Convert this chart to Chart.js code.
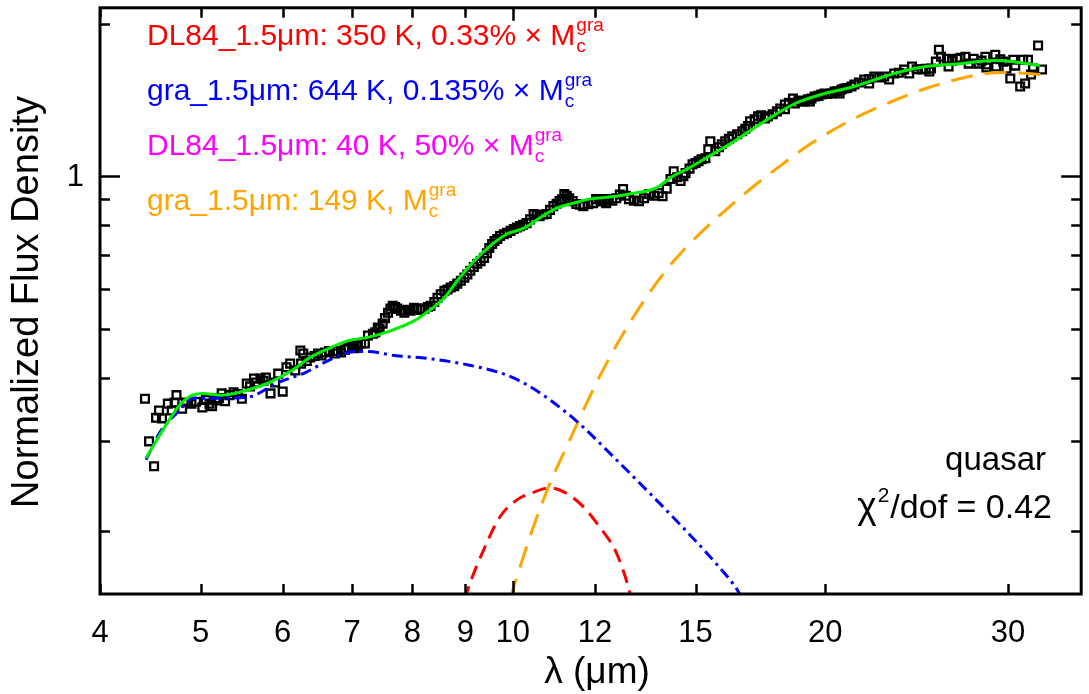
<!DOCTYPE html>
<html>
<head>
<meta charset="utf-8">
<script src="https://cdn.jsdelivr.net/npm/chart.js@4.4.1/dist/chart.umd.min.js"></script>
<style>
  body { margin: 0; background: #fff; }
  #wrap { width: 1089px; height: 694px; }
</style>
</head>
<body>
<div id="wrap"><canvas id="sed" width="1089" height="694"></canvas></div>
<script>
// observed spectrum (black squares)
const obsWave = [4.42, 4.46, 4.51, 4.53, 4.56, 4.59, 4.65, 4.69, 4.72, 4.74, 4.80, 4.84, 4.90, 4.95, 5.02, 5.10, 5.17, 5.24, 5.33, 5.38,
  5.48, 5.54, 5.63, 5.71, 5.78, 5.84, 5.90, 5.94, 6.00, 6.05, 6.10, 6.17, 6.24, 6.25, 6.28, 6.38, 6.49, 6.59, 6.74, 6.83,
  6.94, 7.09, 7.14, 7.20, 7.25, 7.33, 7.37, 7.41, 7.44, 7.49, 7.53, 7.58, 7.66, 7.74, 7.86, 7.97, 8.09, 8.22, 8.33, 8.46,
  8.59, 8.71, 8.84, 8.98, 9.10, 9.24, 9.38, 9.49, 9.60, 9.72, 9.87, 10.02, 10.16, 10.31, 10.47, 10.61, 10.78, 10.94, 11.09, 11.21,
  11.33, 11.51, 11.69, 11.95, 12.03, 12.11, 12.30, 12.37, 12.58, 12.77, 12.94, 13.23, 13.53, 13.82, 13.94, 14.19, 14.29, 14.51, 14.67, 14.90,
  15.10, 15.33, 15.43, 15.50, 15.67, 15.90, 16.02, 16.27, 16.64, 16.75, 16.93, 17.23, 17.50, 17.61, 17.97, 18.29, 18.29, 18.62, 18.70, 18.99,
  19.11, 19.33, 19.40, 19.54, 19.83, 19.97, 20.28, 20.42, 20.65, 20.74, 20.87, 21.20, 21.34, 21.81, 22.05, 22.30, 22.80, 23.05, 23.31, 23.83,
  24.10, 24.25, 24.79, 25.20, 25.29, 25.57, 25.74, 25.86, 26.20, 26.30, 26.80, 27.30, 27.50, 27.80, 28.11, 28.54, 28.60, 28.70, 29.17, 29.23,
  29.70, 29.90, 30.16, 30.36, 30.49, 30.83, 31.03, 31.17, 31.37, 31.58, 31.72, 32.08, 32.36,
  5.06, 5.13, 5.21, 5.28, 5.43, 5.58, 5.66, 5.75, 6.33, 6.44, 6.54, 6.65, 6.78, 6.89, 7.00, 7.04,
  7.62, 7.70, 7.80, 7.92, 8.03, 8.15, 8.28, 8.40, 8.52, 8.65, 8.78, 8.91, 9.04, 9.17, 9.31, 9.44, 9.55, 9.66, 9.80, 9.95,
  10.09, 10.23, 10.39, 10.54, 10.70, 10.86, 11.02, 11.15, 11.27, 11.42, 11.60, 11.82, 12.20, 12.47, 12.68, 12.85, 13.08, 13.38, 13.68, 14.07,
  14.40, 14.60, 14.80, 15.00, 15.20, 15.80, 16.15, 16.45, 16.85, 17.10, 17.35, 17.80, 18.10, 18.45, 18.85, 19.25, 19.70, 20.10, 20.55, 21.00,
  21.55, 22.05, 22.55, 23.55, 24.50, 25.00, 26.50, 27.00, 28.30, 29.50];
const obsFlux = [0.364, 0.300, 0.268, 0.334, 0.345, 0.333, 0.356, 0.345, 0.358, 0.370, 0.348, 0.358, 0.356, 0.359, 0.350, 0.356, 0.361, 0.373, 0.370, 0.375,
  0.364, 0.390, 0.399, 0.399, 0.401, 0.373, 0.392, 0.408, 0.376, 0.420, 0.427, 0.414, 0.453, 0.427, 0.447, 0.439, 0.447, 0.449, 0.447, 0.449,
  0.459, 0.463, 0.468, 0.468, 0.485, 0.489, 0.492, 0.503, 0.500, 0.512, 0.525, 0.538, 0.555, 0.548, 0.538, 0.543, 0.548, 0.548, 0.555, 0.576,
  0.594, 0.603, 0.614, 0.631, 0.651, 0.672, 0.690, 0.722, 0.745, 0.762, 0.773, 0.787, 0.797, 0.808, 0.842, 0.834, 0.842, 0.873, 0.893, 0.922,
  0.905, 0.881, 0.873, 0.885, 0.901, 0.901, 0.885, 0.901, 0.905, 0.943, 0.901, 0.893, 0.922, 0.926, 0.913, 0.987, 1.023, 0.978, 1.014, 1.056,
  1.070, 1.085, 1.130, 1.172, 1.120, 1.156, 1.172, 1.198, 1.226, 1.240, 1.283, 1.312, 1.300, 1.312, 1.342, 1.385, 1.355, 1.423, 1.391, 1.404,
  1.404, 1.404, 1.423, 1.436, 1.449, 1.456, 1.456, 1.469, 1.456, 1.482, 1.489, 1.503, 1.516, 1.551, 1.523, 1.572, 1.572, 1.551, 1.594, 1.623,
  1.594, 1.645, 1.623, 1.608, 1.630, 1.682, 1.776, 1.720, 1.705, 1.645, 1.705, 1.720, 1.667, 1.705, 1.667, 1.720, 1.638, 1.660, 1.736, 1.645,
  1.682, 1.630, 1.558, 1.697, 1.652, 1.503, 1.697, 1.523, 1.697, 1.587, 1.630, 1.810, 1.623,
  0.362, 0.352, 0.365, 0.360, 0.372, 0.385, 0.392, 0.395, 0.432, 0.442, 0.443, 0.452, 0.452, 0.455, 0.462, 0.458,
  0.548, 0.552, 0.543, 0.545, 0.550, 0.545, 0.552, 0.565, 0.585, 0.598, 0.607, 0.622, 0.640, 0.662, 0.680, 0.705, 0.735, 0.752, 0.768, 0.780,
  0.792, 0.802, 0.822, 0.838, 0.840, 0.858, 0.882, 0.900, 0.915, 0.893, 0.878, 0.880, 0.892, 0.895, 0.920, 0.915, 0.895, 0.905, 0.915, 0.945,
  0.995, 1.000, 1.035, 1.062, 1.080, 1.140, 1.185, 1.210, 1.255, 1.295, 1.318, 1.325, 1.360, 1.395, 1.410, 1.418, 1.440, 1.452, 1.470, 1.492,
  1.530, 1.555, 1.565, 1.600, 1.625, 1.628, 1.690, 1.712, 1.690, 1.700];

// total model (green)
const totWave = [4.43, 4.60, 4.77, 4.91, 5.02, 5.24, 5.53, 5.83, 6.17, 6.35, 6.64, 6.94, 7.25, 7.63, 8.04, 8.22, 8.59, 8.84, 9.18, 9.51,
  9.87, 10.25, 10.61, 11.02, 11.44, 11.85, 12.58, 12.94, 13.73, 14.26, 14.77, 15.34, 16.17, 16.89, 17.79, 18.70, 19.83, 21.34, 23.31, 25.0,
  26.95, 29.05, 30.36, 32.2];
const totFlux = [0.278, 0.316, 0.353, 0.370, 0.373, 0.370, 0.378, 0.392, 0.418, 0.437, 0.457, 0.474, 0.481, 0.496, 0.519, 0.535, 0.576, 0.622, 0.681, 0.729,
  0.769, 0.790, 0.827, 0.865, 0.885, 0.901, 0.913, 0.922, 0.947, 1.000, 1.037, 1.085, 1.156, 1.226, 1.312, 1.391, 1.449, 1.503, 1.594, 1.645,
  1.667, 1.690, 1.682, 1.652];

// gra_1.5um 644 K (blue dash-dot)
const hotWave = [4.43, 4.57, 4.77, 4.91, 5.13, 5.53, 5.94, 6.31, 6.64, 7.04, 7.25, 7.69, 8.28, 9.03, 9.87, 10.47, 11.26, 11.69, 12.58, 13.55,
  14.58, 15.67, 16.45, 16.6];
const hotFlux = [0.276, 0.313, 0.345, 0.365, 0.365, 0.366, 0.392, 0.410, 0.433, 0.451, 0.451, 0.443, 0.437, 0.425, 0.405, 0.381, 0.342, 0.320, 0.276, 0.237,
  0.203, 0.173, 0.153, 0.148];

// DL84_1.5um 350 K (red dashed)
const warmWave = [8.99, 9.03, 9.38, 9.72, 10.09, 10.47, 10.85, 11.26, 11.69, 12.11, 12.58, 12.92, 12.98];
const warmFlux = [0.146, 0.151, 0.184, 0.213, 0.230, 0.238, 0.243, 0.237, 0.223, 0.204, 0.181, 0.155, 0.149];

// gra_1.5um 149 K (orange long dash)
const coldWave = [9.93, 9.98, 10.47, 10.85, 11.26, 11.69, 12.11, 12.66, 13.30, 14.04, 14.67, 15.24, 16.75, 18.02, 19.40, 21.34, 23.31, 25.0, 26.95, 28.6,
  30.36, 32.3];
const coldFlux = [0.146, 0.151, 0.204, 0.247, 0.292, 0.345, 0.401, 0.474, 0.558, 0.651, 0.722, 0.780, 0.926, 1.041, 1.161, 1.300, 1.410, 1.489, 1.557, 1.594,
  1.601, 1.587];

const xTicks = [4, 5, 6, 7, 8, 9, 10, 12, 15, 20, 30];
const yTicks = [0.2, 0.3, 0.4, 0.5, 0.6, 0.7, 0.8, 0.9, 1, 2];
const yLabelled = [1];

const legendText = [
  'DL84_1.5\u03bcm: 350 K, 0.33% \u00d7 M',
  'gra_1.5\u03bcm: 644 K, 0.135% \u00d7 M',
  'DL84_1.5\u03bcm: 40 K, 50% \u00d7 M',
  'gra_1.5\u03bcm: 149 K, M'
];
const legendColor = ['#ff0000', '#0000ff', '#ff00ff', '#ffa500'];

const FONT = '"Liberation Sans", Arial, Helvetica, sans-serif';

function pairs(xs, ys) {
    return xs.map((x, i) => ({ x: x, y: ys[i] }));
}

const framePlugin = {
    id: 'frame',
    afterDraw(chart) {
        const ctx = chart.ctx;
        const a = chart.chartArea;
        const sx = chart.scales.x, sy = chart.scales.y;
        ctx.save();
        ctx.strokeStyle = '#000';
        ctx.lineWidth = 3;
        ctx.strokeRect(a.left, a.top, a.right - a.left, a.bottom - a.top);

        // inward ticks
        ctx.lineWidth = 2.5;
        ctx.beginPath();
        xTicks.forEach(v => {
            const px = Math.round(sx.getPixelForValue(v)) + 0.5;
            const len = v === 10 ? 13 : 10;
            ctx.moveTo(px, a.bottom); ctx.lineTo(px, a.bottom - len);
            ctx.moveTo(px, a.top); ctx.lineTo(px, a.top + len);
        });
        yTicks.forEach(v => {
            const py = Math.round(sy.getPixelForValue(v)) + 0.5;
            const len = v === 1 ? 20 : 10;
            ctx.moveTo(a.left, py); ctx.lineTo(a.left + len, py);
            ctx.moveTo(a.right, py); ctx.lineTo(a.right - len, py);
        });
        ctx.stroke();

        // tick labels
        ctx.fillStyle = '#000';
        ctx.font = '31px ' + FONT;
        ctx.textAlign = 'center';
        ctx.textBaseline = 'alphabetic';
        xTicks.forEach(v => {
            ctx.fillText(String(v), sx.getPixelForValue(v), a.bottom + 48);
        });
        ctx.textAlign = 'right';
        ctx.textBaseline = 'middle';
        yLabelled.forEach(v => {
            ctx.fillText(String(v), a.left - 16, sy.getPixelForValue(v) + 1);
        });

        // axis titles
        ctx.textAlign = 'center';
        ctx.textBaseline = 'alphabetic';
        ctx.font = '37px ' + FONT;
        ctx.fillText('\u03bb (\u03bcm)', 597, 683);
        ctx.save();
        ctx.translate(38, 302);
        ctx.rotate(-Math.PI / 2);
        ctx.font = '38px ' + FONT;
        ctx.fillText('Normalized Flux Density', 0, 0);
        ctx.restore();

        // legend lines with M_c^gra
        ctx.textAlign = 'left';
        legendText.forEach((t, i) => {
            const y = 45 + i * 55;
            ctx.fillStyle = legendColor[i];
            ctx.font = '30px ' + FONT;
            ctx.fillText(t, 147, y);
            const w = ctx.measureText(t).width;
            ctx.font = '19px ' + FONT;
            ctx.fillText('gra', 147 + w + 1, y - 14);
            ctx.fillText('c', 147 + w + 1, y + 7);
        });

        // annotation
        ctx.fillStyle = '#000';
        ctx.font = '33px ' + FONT;
        ctx.textAlign = 'right';
        ctx.fillText('quasar', 1046, 470);
        ctx.font = '34px ' + FONT;
        const tail = '/dof = 0.42';
        const tailW = ctx.measureText(tail).width;
        ctx.fillText(tail, 1052, 518);
        ctx.font = '21px ' + FONT;
        const supW = ctx.measureText('2').width;
        ctx.fillText('2', 1052 - tailW - 1, 502);
        ctx.font = '37px ' + FONT;
        ctx.fillText('\u03c7', 1052 - tailW - supW - 2, 518);
        ctx.restore();
    }
};

const ctxC = document.getElementById('sed').getContext('2d');
const sedChart = new Chart(ctxC, {
    type: 'line',
    data: {
        datasets: [
            {
                label: 'total',
                data: pairs(totWave, totFlux),
                borderColor: '#00ee00',
                borderWidth: 3,
                pointRadius: 0,
                cubicInterpolationMode: 'monotone',
                order: 0
            },
            {
                label: 'gra 644 K',
                data: pairs(hotWave, hotFlux),
                borderColor: '#0000ff',
                borderWidth: 3,
                borderDash: [11, 5, 3, 5],
                pointRadius: 0,
                cubicInterpolationMode: 'monotone',
                order: 1
            },
            {
                label: 'DL84 350 K',
                data: pairs(warmWave, warmFlux),
                borderColor: '#ff0000',
                borderWidth: 3,
                borderDash: [14, 8],
                pointRadius: 0,
                cubicInterpolationMode: 'monotone',
                order: 2
            },
            {
                label: 'gra 149 K',
                data: pairs(coldWave, coldFlux),
                borderColor: '#ffa500',
                borderWidth: 3,
                borderDash: [22, 12],
                pointRadius: 0,
                cubicInterpolationMode: 'monotone',
                order: 3
            },
            {
                label: 'quasar',
                data: pairs(obsWave, obsFlux),
                showLine: false,
                pointStyle: 'rect',
                pointRadius: 5.5,
                borderColor: '#000',
                backgroundColor: 'rgba(0,0,0,0)',
                pointBorderWidth: 2.3,
                order: 4
            }
        ]
    },
    options: {
        responsive: false,
        animation: false,
        devicePixelRatio: 1,
        layout: { padding: { left: 100, top: 6, right: 1, bottom: 100 } },
        plugins: { legend: { display: false }, tooltip: { enabled: false } },
        scales: {
            x: { type: 'logarithmic', min: 4, max: 35.3, display: false },
            y: { type: 'logarithmic', min: 0.150, max: 2.148, display: false }
        }
    },
    plugins: [framePlugin]
});
</script>
</body>
</html>
